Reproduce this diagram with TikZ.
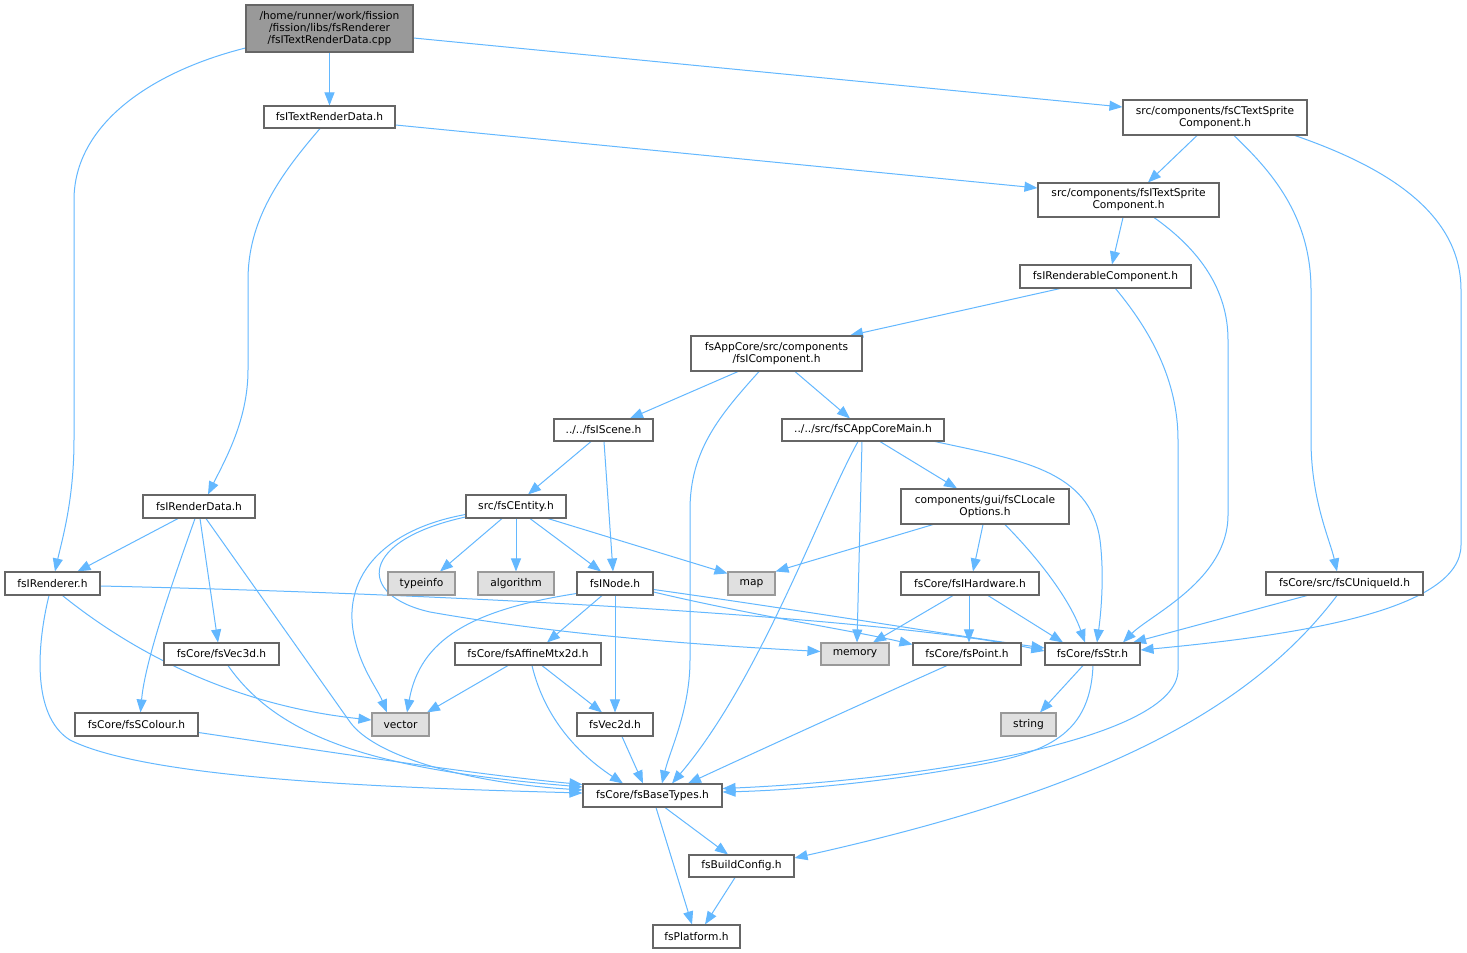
\documentclass[tikz,border=0pt]{standalone}
\usepackage{fontspec}
\setmainfont{DejaVu Sans}
\usetikzlibrary{arrows.meta,backgrounds}
\definecolor{edgec}{HTML}{63B8FF}
\definecolor{bord}{HTML}{666666}
\definecolor{extfill}{HTML}{E0E0E0}
\definecolor{extbord}{HTML}{999999}
\definecolor{rootfill}{HTML}{999999}
\begin{document}
\begin{tikzpicture}[x=1pt,y=-1pt,
  filebox/.style={draw=bord,fill=white,line width=1.1pt,inner sep=0pt,align=center,
    font=\fontsize{10.65}{12}\selectfont},
  extbox/.style={filebox,draw=extbord,fill=extfill},
  rootbox/.style={filebox,fill=rootfill},
  dep/.style={draw=edgec,line width=1pt,-{Triangle[length=13pt,width=10pt]}}]
\useasboundingbox (0,0) rectangle (1467,953);
\node[rootbox,minimum width=167pt,minimum height=47pt] (root) at (329.5,28.5) {/home/runner/work/fission\\/fission/libs/fsRenderer\\/fsITextRenderData.cpp};
\node[filebox,minimum width=131pt,minimum height=22pt] (trd) at (329.5,117) {fsITextRenderData.h};
\node[filebox,minimum width=184pt,minimum height=35pt] (cts) at (1215,117.5) {src/components/fsCTextSprite\\Component.h};
\node[filebox,minimum width=181pt,minimum height=34pt] (its) at (1128.5,200) {src/components/fsITextSprite\\Component.h};
\node[filebox,minimum width=171pt,minimum height=23pt] (irc) at (1105.5,276.5) {fsIRenderableComponent.h};
\node[filebox,minimum width=171pt,minimum height=35pt] (ico) at (776.5,353.5) {fsAppCore/src/components\\/fsIComponent.h};
\node[filebox,minimum width=99pt,minimum height=22pt] (isc) at (603.5,430) {../../fsIScene.h};
\node[filebox,minimum width=162pt,minimum height=22pt] (acm) at (863,430) {../../src/fsCAppCoreMain.h};
\node[filebox,minimum width=100pt,minimum height=23pt] (ent) at (516,506.5) {src/fsCEntity.h};
\node[filebox,minimum width=168pt,minimum height=35pt] (loc) at (985,506.5) {components/gui/fsCLocale\\Options.h};
\node[filebox,minimum width=112pt,minimum height=23pt] (ird) at (199,506.5) {fsIRenderData.h};
\node[filebox,minimum width=95pt,minimum height=23pt] (ire) at (52.5,583.5) {fsIRenderer.h};
\node[extbox,minimum width=67pt,minimum height=23pt] (tinfo) at (421.5,583.5) {typeinfo};
\node[extbox,minimum width=76pt,minimum height=23pt] (alg) at (516,583.5) {algorithm};
\node[filebox,minimum width=76pt,minimum height=23pt] (nod) at (615,583.5) {fsINode.h};
\node[extbox,minimum width=47pt,minimum height=23pt] (map) at (751.5,583.5) {map};
\node[filebox,minimum width=138pt,minimum height=23pt] (hw) at (970,583.5) {fsCore/fsIHardware.h};
\node[filebox,minimum width=157pt,minimum height=23pt] (uid) at (1344.5,583.5) {fsCore/src/fsCUniqueId.h};
\node[filebox,minimum width=115pt,minimum height=22pt] (v3) at (221.5,654) {fsCore/fsVec3d.h};
\node[filebox,minimum width=146pt,minimum height=22pt] (aff) at (528,654) {fsCore/fsAffineMtx2d.h};
\node[extbox,minimum width=68pt,minimum height=22pt] (mem) at (855,654) {memory};
\node[filebox,minimum width=108pt,minimum height=22pt] (pt) at (967,654) {fsCore/fsPoint.h};
\node[filebox,minimum width=95pt,minimum height=22pt] (str) at (1092.5,654) {fsCore/fsStr.h};
\node[filebox,minimum width=123pt,minimum height=23pt] (col) at (136.5,724.5) {fsCore/fsSColour.h};
\node[extbox,minimum width=57pt,minimum height=23pt] (vec) at (400.5,724.5) {vector};
\node[filebox,minimum width=76pt,minimum height=23pt] (v2) at (615,724.5) {fsVec2d.h};
\node[extbox,minimum width=55pt,minimum height=23pt] (strg) at (1028.5,724.5) {string};
\node[filebox,minimum width=139pt,minimum height=23pt] (bt) at (652.5,795.5) {fsCore/fsBaseTypes.h};
\node[filebox,minimum width=105pt,minimum height=22pt] (bc) at (741.5,866) {fsBuildConfig.h};
\node[filebox,minimum width=87pt,minimum height=23pt] (pf) at (696.5,936.5) {fsPlatform.h};
\begin{scope}[on background layer]
\fill[white] (0,0) rectangle (1467,953);
% root
\draw[dep] ([yshift=-19.5pt]root.west) .. controls (150,72) and (74,125) .. (74,200) -- (74,440) .. controls (74,500) and (62,540) .. ([xshift=2.5pt]ire.north);
\draw[dep] (root.south) -- (trd.north);
\draw[dep] ([yshift=-9.5pt]root.east) -- ([yshift=10.5pt]cts.west);
% trd
\draw[dep] ([xshift=-9.5pt]trd.south) .. controls (280,175) and (248,220) .. (248,280) -- (248,370) .. controls (248,420) and (225,460) .. ([xshift=9pt]ird.north);
\draw[dep] ([yshift=-8pt]trd.east) -- ([yshift=12pt]its.west);
% cts
\draw[dep] ([xshift=-18pt]cts.south) -- ([xshift=19.5pt]its.north);
\draw[dep] ([xshift=19pt]cts.south) .. controls (1270,170) and (1311,215) .. (1311,290) -- (1311,440) .. controls (1311,500) and (1330,540) .. ([xshift=-7.5pt]uid.north);
\draw[dep] ([xshift=80pt]cts.south) .. controls (1380,165) and (1461,210) .. (1461,290) -- (1461,545) .. controls (1461,610) and (1300,635) .. ([yshift=4pt]str.east);
% its
\draw[dep] ([xshift=-5.5pt]its.south) -- ([xshift=6.5pt]irc.north);
\draw[dep] ([xshift=25.5pt]its.south) .. controls (1200,250) and (1228,290) .. (1228,340) -- (1228,515) .. controls (1228,580) and (1150,615) .. ([xshift=30.5pt]str.north);
% irc
\draw[dep] ([xshift=-45.5pt]irc.south) -- ([xshift=73.5pt]ico.north);
\draw[dep] ([xshift=10pt]irc.south) .. controls (1150,330) and (1178,380) .. (1178,440) -- (1178,670) .. controls (1178,740) and (920,780) .. ([yshift=7pt]bt.east);
% ico
\draw[dep] ([xshift=-38.5pt]ico.south) -- ([xshift=26.5pt]isc.north);
\draw[dep] ([xshift=18.5pt]ico.south) -- ([xshift=-13pt]acm.north);
\draw[dep] ([xshift=-17.5pt]ico.south) .. controls (720,415) and (690,450) .. (690,510) -- (690,660) .. controls (690,710) and (670,750) .. ([xshift=9.5pt]bt.north);
% isc
\draw[dep] ([xshift=-12.5pt]isc.south) -- ([xshift=12pt]ent.north);
\draw[dep] ([xshift=0.5pt]isc.south) -- ([xshift=-2pt]nod.north);
% acm
\draw[dep] ([xshift=17pt]acm.south) -- ([xshift=-28pt]loc.north);
\draw[dep] ([xshift=-1pt]acm.south) -- ([xshift=2pt]mem.north);
\draw[dep] ([xshift=-5pt]acm.south) .. controls (820,510) and (760,680) .. ([xshift=19.5pt]bt.north);
\draw[dep] ([xshift=72pt]acm.south) .. controls (1020,460) and (1090,470) .. (1100,540) .. controls (1105,580) and (1100,620) .. ([xshift=4.5pt]str.north);
% ent
\draw[dep] ([xshift=-14pt]ent.south) -- ([xshift=18.5pt]tinfo.north);
\draw[dep] (ent.south) -- (alg.north);
\draw[dep] ([xshift=14pt]ent.south) -- ([xshift=-14pt]nod.north);
\draw[dep] ([xshift=32pt]ent.south) -- ([yshift=-2pt]map.north west);
\draw[dep] ([yshift=-8pt]ent.west) .. controls (380,530) and (340,580) .. (355,640) .. controls (362,670) and (378,690) .. ([xshift=-13.5pt]vec.north);
\draw[dep] ([yshift=-10.5pt]ent.west) .. controls (360,540) and (355,595) .. (430,612) .. controls (560,635) and (700,645) .. ([yshift=2.5pt]mem.west);
% loc
\draw[dep] ([xshift=-52pt]loc.south) -- (map.north east);
\draw[dep] ([xshift=-2pt]loc.south) -- ([xshift=3pt]hw.north);
\draw[dep] ([xshift=20pt]loc.south) .. controls (1040,560) and (1070,600) .. ([xshift=-7.5pt]str.north);
% ird
\draw[dep] ([xshift=-21pt]ird.south) -- ([xshift=25pt]ire.north);
\draw[dep] ([xshift=-4pt]ird.south) .. controls (175,575) and (145,660) .. ([xshift=4pt]col.north);
\draw[dep] ([xshift=1pt]ird.south) -- ([xshift=-3.5pt]v3.north);
\draw[dep] ([xshift=7pt]ird.south) -- (350,722) .. controls (375,757) and (470,783) .. ([yshift=5.5pt]bt.west);
% ire
\draw[dep] ([yshift=-2.5pt]ire.east) .. controls (500,595) and (900,620) .. ([yshift=3pt]str.west);
\draw[dep] ([xshift=10pt]ire.south) .. controls (130,650) and (230,705) .. ([yshift=4.5pt]vec.west);
\draw[dep] ([xshift=-3.5pt]ire.south) .. controls (38,640) and (30,715) .. (70,740) .. controls (150,780) and (400,788) .. ([yshift=2.5pt]bt.west);
% nod
\draw[dep] ([yshift=-10pt]nod.west) .. controls (470,610) and (420,640) .. ([xshift=6.5pt]vec.north);
\draw[dep] ([xshift=-13pt]nod.south) -- ([xshift=19pt]aff.north);
\draw[dep] (nod.south) -- (v2.north);
\draw[dep] ([yshift=-8.5pt]nod.east) .. controls (750,615) and (850,630) .. ([yshift=-2pt]pt.north west);
\draw[dep] ([yshift=-6pt]nod.east) .. controls (800,610) and (950,635) .. ([yshift=6pt]str.west);
% hw
\draw[dep] ([xshift=-17pt]hw.south) -- ([xshift=18pt]mem.north);
\draw[dep] ([xshift=-1pt]hw.south) -- ([xshift=2pt]pt.north);
\draw[dep] ([xshift=18pt]hw.south) -- ([xshift=-29.5pt]str.north);
% uid
\draw[dep] ([xshift=-37.5pt]uid.south) -- ([xshift=40.5pt]str.north);
\draw[dep] ([xshift=-7.5pt]uid.south) .. controls (1250,710) and (1100,790) .. ([yshift=8pt]bc.east);
% lower
\draw[dep] ([xshift=6.5pt]v3.south) .. controls (280,740) and (380,770) .. ([yshift=8.5pt]bt.west);
\draw[dep] ([yshift=-8pt]col.east) .. controls (350,755) and (480,775) .. ([yshift=11pt]bt.west);
\draw[dep] ([xshift=-20pt]aff.south) -- ([xshift=26.5pt]vec.north);
\draw[dep] ([xshift=14pt]aff.south) -- ([xshift=-13pt]v2.north);
\draw[dep] ([xshift=4pt]aff.south) .. controls (545,720) and (580,755) .. ([xshift=-29.5pt]bt.north);
\draw[dep] ([xshift=-20pt]pt.south) .. controls (870,700) and (760,750) .. ([xshift=35.5pt]bt.north);
\draw[dep] ([xshift=-9.5pt]str.south) -- ([xshift=11.5pt]strg.north);
\draw[dep] ([xshift=0.5pt]str.south) .. controls (1090,740) and (1040,755) .. (960,768) .. controls (880,782) and (800,790) .. ([yshift=3.5pt]bt.east);
\draw[dep] ([xshift=7pt]v2.south) -- ([xshift=-9.5pt]bt.north);
\draw[dep] ([xshift=12.5pt]bt.south) -- ([xshift=-13.5pt]bc.north);
\draw[dep] ([xshift=3.5pt]bt.south) -- ([xshift=-4.5pt]pf.north);
\draw[dep] ([xshift=-6.5pt]bc.south) -- ([xshift=8.5pt]pf.north);
\end{scope}
\end{tikzpicture}
\end{document}
